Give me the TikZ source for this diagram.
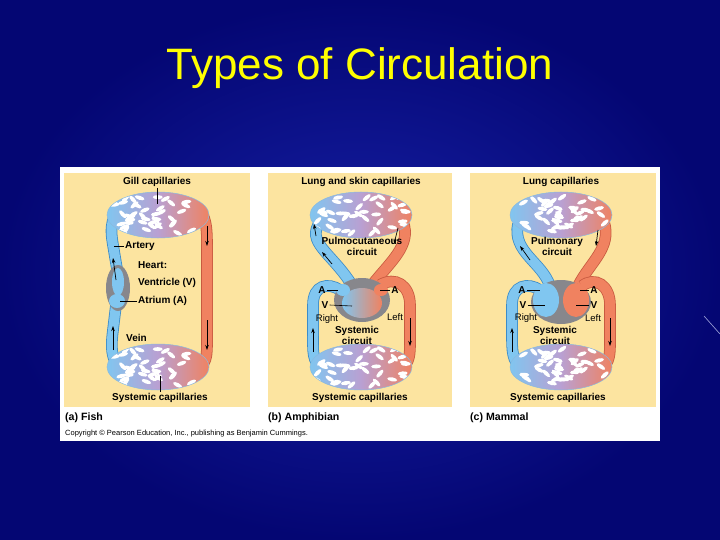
\documentclass[tikz,border=0pt]{standalone}
\usepackage{fontspec}
\setmainfont{Liberation Sans}
\usetikzlibrary{arrows.meta}
\definecolor{navy}{RGB}{4,6,115}
\definecolor{navyhi}{RGB}{22,32,165}
\definecolor{beige}{RGB}{252,228,160}
\definecolor{bloodblue}{RGB}{128,198,240}
\definecolor{blueedge}{RGB}{60,140,200}
\definecolor{bloodred}{RGB}{240,130,96}
\definecolor{rededge}{RGB}{200,90,64}
\definecolor{heartgray}{RGB}{135,135,140}
\definecolor{titleyellow}{RGB}{255,255,0}

\tikzset{
  lab/.style={font=\bfseries\fontsize{10}{11}\selectfont, align=center, inner sep=1pt},
  plainlab/.style={font=\fontsize{9.5}{10.5}\selectfont, inner sep=1pt},
  caption/.style={font=\bfseries\fontsize{10.6}{12}\selectfont, anchor=west, inner sep=0pt},
  bluevessel/.style={draw=blueedge, line width=0.8pt, double=bloodblue, double distance=10pt},
  redvessel/.style={draw=rededge, line width=0.8pt, double=bloodred, double distance=10pt},
  flow/.style={-{Stealth[length=5pt,width=3.5pt]}, black, line width=0.7pt},
  leader/.style={black, line width=0.6pt}
}

% capillary bed: centre x, centre y
\newcommand{\capbed}[2]{%
  \begin{scope}
    \clip (#1,#2) ellipse [x radius=51, y radius=23];
    \shade[left color=bloodblue, right color=bloodred, middle color={rgb,255:red,185;green,160;blue,210}]
      (#1-52,#2-24) rectangle (#1+52,#2+24);
    \pgfmathsetseed{#1}
    \foreach \k in {1,...,45}{
      \pgfmathsetmacro{\px}{#1+46*rand}
      \pgfmathsetmacro{\py}{#2+19*rand}
      \pgfmathsetmacro{\rot}{50*rand}
      \fill[white, rotate around={\rot:(\px,\py)}] (\px,\py) ellipse [x radius=5, y radius=2];
    }
  \end{scope}
  \draw[blueedge!60, line width=0.5pt] (#1,#2) ellipse [x radius=51, y radius=23];
}

\begin{document}
\begin{tikzpicture}[x=1pt, y=-1pt]
\useasboundingbox (0,0) rectangle (720,540);

% background
\shade[inner color=navyhi, outer color=navy] (0,0) rectangle (720,540);
\draw[white!60!navyhi, line width=0.6pt] (704,316) -- (720,334);
\node[text=titleyellow, font=\fontsize{44}{48}\selectfont] (title) at (360,68) {Types of Circulation};

% frame and panels
\fill[white] (60,167) rectangle (660,441);
\fill[beige] (64,173) rectangle (250,407);
\fill[beige] (268,173) rectangle (452,407);
\fill[beige] (470,173) rectangle (656,407);

% ---------- (a) fish ----------
\draw[bluevessel] (128,206) .. controls (110,212) and (110,228) .. (113,245)
   -- (118,275) -- (116,305) -- (113,330) .. controls (110,352) and (112,366) .. (128,372);
\draw[redvessel] (188,204) .. controls (206,208) and (207,225) .. (207,245)
   -- (207,345) .. controls (207,360) and (205,368) .. (188,374);
\fill[heartgray] (118,288) ellipse [x radius=12, y radius=23];
\fill[bloodblue] (118,282) ellipse [x radius=6, y radius=14];
\fill[bloodblue] (117,301) ellipse [x radius=8, y radius=7];
\capbed{158}{215}
\capbed{158}{367}
\draw[flow] (113,350) -- (113,326);
\draw[flow] (116,280) -- (113,258);
\draw[flow] (207,226) -- (207,246);
\draw[flow] (207,320) -- (207,350);
\node[lab] (gill) at (157,182) {Gill capillaries};
\node[lab, anchor=west] (artery) at (124,246) {Artery};
\node[lab, anchor=west] (heart) at (137,265) {Heart:};
\node[lab, anchor=west] (ventricle) at (137,283) {Ventricle (V)};
\node[lab, anchor=west] (atrium) at (137,301) {Atrium (A)};
\node[lab, anchor=west] (vein) at (125,338) {Vein};
\node[lab] (syscapa) at (160,398) {Systemic capillaries};
\coordinate (arteryend) at (114,246);
\coordinate (atriumend) at (120,301);
\draw[leader] (artery.west) -- (arteryend);
\draw[leader] (atrium.west) -- (atriumend);
\draw[leader] (gill.south) -- ++(0,16);
\draw[leader] (syscapa.north) -- ++(0,-16);
\node[caption] (capa) at (65,418) {(a) Fish};
\node[caption, font=\fontsize{7.5}{9}\selectfont] (copy) at (65,434) {Copyright \textcopyright{} Pearson Education, Inc., publishing as Benjamin Cummings.};

% ---------- (b) amphibian ----------
\draw[bluevessel] (320,222) .. controls (306,242) and (330,252) .. (350,282);
\draw[redvessel] (403,222) .. controls (412,245) and (390,262) .. (372,285);
\draw[bluevessel] (322,368) .. controls (312,362) and (313,350) .. (313,335)
   -- (313,305) .. controls (313,285) and (328,282) .. (340,290);
\draw[redvessel] (380,285) .. controls (395,276) and (410,285) .. (410,305)
   -- (410,345) .. controls (410,358) and (408,364) .. (400,370);
\fill[heartgray] (362,300) ellipse [x radius=28, y radius=22];
\shade[left color=bloodblue, right color=bloodred] (362,303) ellipse [x radius=20, y radius=15];
\fill[bloodblue] (343,290) ellipse [x radius=7, y radius=6];
\fill[bloodred] (381,290) ellipse [x radius=7, y radius=6];
\capbed{361}{215}
\capbed{361}{367}
\draw[flow] (316,236) -- (314,224);
\draw[flow] (332,264) -- (322,252);
\draw[flow] (398,228) -- (394,244);
\draw[flow] (313,352) -- (313,328);
\draw[flow] (410,318) -- (410,346);
\node[lab] (lungskin) at (361,182) {Lung and skin capillaries};
\node[lab] (pulmocut) at (362,246) {Pulmocutaneous\\circuit};
\node[lab] (ab1) at (322,290) {A};
\node[lab] (ab2) at (395,290) {A};
\node[lab] (vb) at (325,305) {V};
\node[plainlab] (rightb) at (327,319) {Right};
\node[plainlab] (leftb) at (395,317) {Left};
\node[lab] (sysb) at (357,335) {Systemic\\circuit};
\node[lab] (syscapb) at (360,398) {Systemic capillaries};
\coordinate (ab1end) at (338,290);
\coordinate (ab2end) at (380,290);
\coordinate (vbend) at (352,306);
\draw[leader] (ab1.east) -- (ab1end);
\draw[leader] (ab2.west) -- (ab2end);
\draw[leader] (vb.east) -- (vbend);
\node[caption] (capb) at (268,418) {(b) Amphibian};

% ---------- (c) mammal ----------
\draw[bluevessel] (550,286) .. controls (542,262) and (512,252) .. (518,224);
\draw[redvessel] (604,222) .. controls (612,248) and (590,262) .. (578,286);
\draw[bluevessel] (522,368) .. controls (512,362) and (512,350) .. (512,335)
   -- (512,305) .. controls (512,285) and (528,282) .. (540,290);
\draw[redvessel] (582,286) .. controls (595,276) and (610,285) .. (610,305)
   -- (610,345) .. controls (610,358) and (608,364) .. (600,370);
\fill[heartgray] (561,302) ellipse [x radius=30, y radius=22];
\fill[bloodblue] (546,300) ellipse [x radius=13, y radius=17];
\fill[bloodred] (576,300) ellipse [x radius=13, y radius=17];
\capbed{561}{215}
\capbed{561}{367}
\draw[flow] (530,260) -- (520,246);
\draw[flow] (598,230) -- (596,246);
\draw[flow] (512,352) -- (512,328);
\draw[flow] (610,318) -- (610,346);
\node[lab] (lungc) at (561,182) {Lung capillaries};
\node[lab] (pulm) at (557,246) {Pulmonary\\circuit};
\node[lab] (ac1) at (522,290) {A};
\node[lab] (ac2) at (594,290) {A};
\node[lab] (vc1) at (523,305) {V};
\node[lab] (vc2) at (594,305) {V};
\node[plainlab] (rightc) at (526,318) {Right};
\node[plainlab] (leftc) at (593,318) {Left};
\node[lab] (sysc) at (555,335) {Systemic\\circuit};
\node[lab] (syscapc) at (558,398) {Systemic capillaries};
\coordinate (ac1end) at (540,290);
\coordinate (ac2end) at (580,290);
\coordinate (vc1end) at (545,305);
\coordinate (vc2end) at (576,305);
\draw[leader] (ac1.east) -- (ac1end);
\draw[leader] (ac2.west) -- (ac2end);
\draw[leader] (vc1.east) -- (vc1end);
\draw[leader] (vc2.west) -- (vc2end);
\node[caption] (capc) at (470,418) {(c) Mammal};
\end{tikzpicture}
\end{document}
